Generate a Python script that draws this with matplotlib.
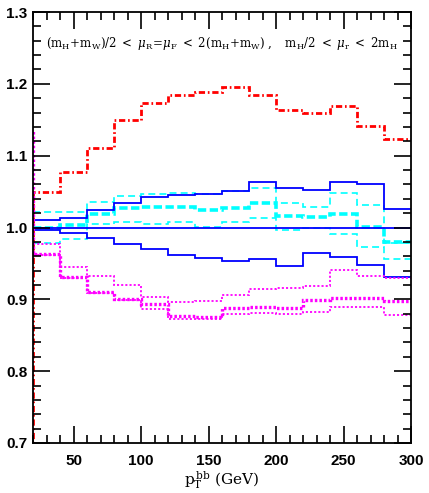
import matplotlib
matplotlib.use("Agg")
import matplotlib.pyplot as plt
from matplotlib.ticker import MultipleLocator
import numpy as np

plt.rcParams['lines.scale_dashes'] = False
plt.rcParams['mathtext.fontset'] = 'dejavuserif'

# bin edges in pT (GeV)
edges = np.arange(20, 301, 20)
# leading bin (below the plotted range) for curves that enter from the left
edges_lead = np.arange(0, 301, 20)

red = [1.049, 1.077, 1.111, 1.149, 1.174, 1.185, 1.189, 1.196, 1.185, 1.164,
       1.160, 1.169, 1.141, 1.123]
red_lead = 0.65

blue_up = [1.010, 1.0135, 1.025, 1.034, 1.042, 1.045, 1.046, 1.0515, 1.063, 1.055,
           1.052, 1.063, 1.060, 1.026]
blue_mid = [1.0] * 14
blue_lo = [0.996, 0.993, 0.986, 0.977, 0.970, 0.962, 0.958, 0.954, 0.9555, 0.946,
           0.964, 0.959, 0.948, 0.931]

cyan_up = [1.021, 1.022, 1.035, 1.0445, 1.047, 1.048, 1.046, 1.051, 1.055, 1.034,
           1.029, 1.048, 1.0316, 0.978]
cyan_thick = [1.000, 1.003, 1.019, 1.027, 1.029, 1.029, 1.025, 1.027, 1.034, 1.016,
              1.015, 1.019, 1.0005, 0.9795]
cyan_lo = [0.979, 0.984, 1.005, 1.007, 1.005, 1.007, 1.001, 1.007, 1.013, 0.996,
           0.999, 0.991, 0.9725, 0.956]

mag_up = [0.977, 0.945, 0.932, 0.920, 0.903, 0.896, 0.898, 0.906, 0.915, 0.916,
          0.918, 0.941, 0.932, 0.930]
mag_thick = [0.963, 0.931, 0.910, 0.900, 0.894, 0.877, 0.876, 0.888, 0.889, 0.888,
             0.899, 0.902, 0.9015, 0.898]
mag_thick_lead = 1.135
mag_lo = [0.962, 0.930, 0.909, 0.899, 0.886, 0.872, 0.873, 0.879, 0.881, 0.879,
          0.883, 0.890, 0.890, 0.8775]

fig = plt.figure(figsize=(4.29, 4.93), dpi=100)
ax = fig.add_axes([33 / 429, 50 / 493, 378 / 429, 431 / 493])

ax.stairs([red_lead] + red, edges_lead, color='#ff0000', lw=2.0,
          linestyle=(0, (4.5, 2, 1.2, 2)), baseline=None)

ax.stairs(cyan_up, edges, color='#00ffff', lw=1.2, linestyle=(0, (5, 3)), baseline=None)
ax.stairs(cyan_lo, edges, color='#00ffff', lw=1.2, linestyle=(0, (5, 3)), baseline=None)
ax.stairs(cyan_thick, edges, color='#00ffff', lw=2.6, linestyle=(0, (6, 2.5)), baseline=None)

ax.stairs(blue_up, edges, color='#0000ff', lw=1.3, baseline=None)
ax.stairs(blue_mid, edges, color='#0000ff', lw=1.3, baseline=None)
ax.stairs(blue_lo, edges, color='#0000ff', lw=1.3, baseline=None)

ax.stairs(mag_up, edges, color='#ff00ff', lw=1.3, linestyle=(0, (1.5, 1.5)), baseline=None)
ax.stairs(mag_lo, edges, color='#ff00ff', lw=1.3, linestyle=(0, (1.5, 1.5)), baseline=None)
ax.stairs([mag_thick_lead] + mag_thick, edges_lead, color='#ff00ff', lw=2.4,
          linestyle=(0, (1.8, 1.5)), baseline=None)

ax.set_xlim(20, 300)
ax.set_ylim(0.7, 1.3)

ax.xaxis.set_major_locator(MultipleLocator(50))
ax.xaxis.set_minor_locator(MultipleLocator(10))
ax.yaxis.set_major_locator(MultipleLocator(0.1))
ax.yaxis.set_minor_locator(MultipleLocator(0.02))
ax.tick_params(which='both', direction='in', top=True, right=True, width=1.2)
ax.tick_params(which='major', length=12)
ax.tick_params(which='minor', length=5.5)
ax.tick_params(axis='x', which='major', pad=8)
ax.tick_params(axis='y', which='major', pad=4)
for s in ax.spines.values():
    s.set_linewidth(1.3)

ax.set_xticks([50, 100, 150, 200, 250, 300])
ax.set_xticklabels(['50', '100', '150', '200', '250', '300'])
ax.set_yticks([0.7, 0.8, 0.9, 1.0, 1.1, 1.2, 1.3])
ax.set_yticklabels(['0.7', '0.8', '0.9', '1.0', '1.1', '1.2', '1.3'])
for lab in ax.get_xticklabels() + ax.get_yticklabels():
    lab.set_fontfamily('Liberation Sans')
    lab.set_fontweight('bold')
    lab.set_fontsize(11)

ax.set_xlabel(r'$\mathrm{p_T^{\,bb}}$ (GeV)', family='DejaVu Serif', fontsize=11,
              labelpad=1)

ax.text(0.5, 0.927,
        r'$\mathrm{(m_H\!+\!m_W)/2}\ <\ \mu_\mathrm{R}\!=\!\mu_\mathrm{F}\ <\ '
        r'\mathrm{2(m_H\!+\!m_W)}\ ,\quad \mathrm{m_H/2}\ <\ \mu_\mathrm{r}\ <\ \mathrm{2m_H}$',
        transform=ax.transAxes, ha='center', va='center', fontsize=8.5)

fig.savefig('out.png', dpi=100)
